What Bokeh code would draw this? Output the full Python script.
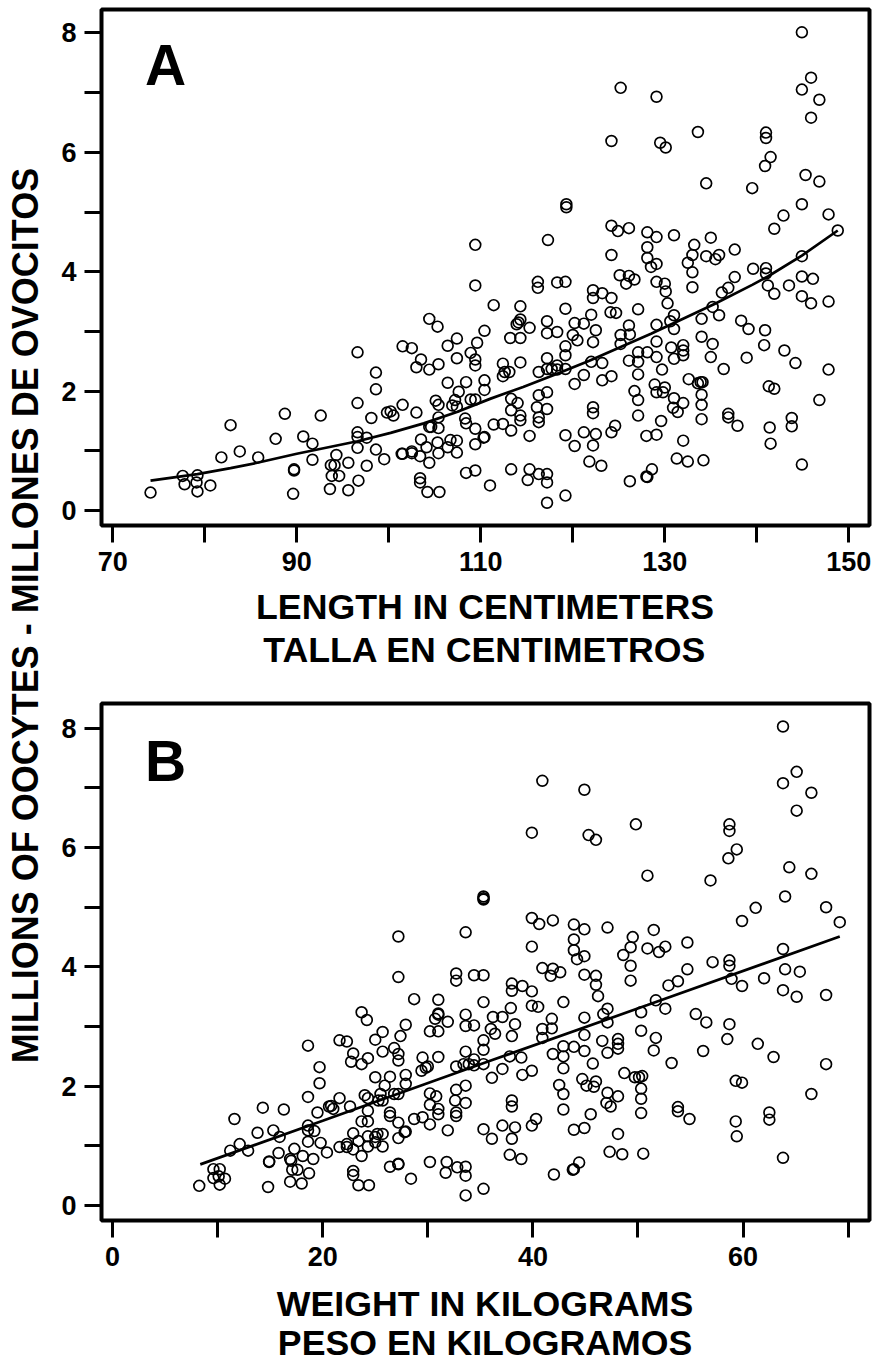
from bokeh.plotting import figure
from bokeh.layouts import row, column
from bokeh.models import Label, FixedTicker, Range1d
from bokeh.embed import file_html
from bokeh.resources import INLINE
import math

length_cm = [
74.1,77.6,77.8,79.2,79.1,79.2,80.6,81.8,82.8,83.8,85.8,87.7,88.7,89.7,89.7,89.6,90.7,91.7,91.7,92.6,
94.3,93.7,94.1,93.8,94.6,93.6,95.6,95.6,96.7,96.6,96.6,96.6,96.6,96.6,97.6,97.6,98.1,98.6,98.6,98.6,
99.5,99.8,100.2,100.5,101.5,101.5,102.5,101.5,101.4,102.5,102.5,103,103,103.5,104.4,105.4,104.4,105.3,106.4,107.4,
107.4,106.4,108.4,107.6,105.1,105.4,105.4,104.4,104.6,105.4,103.5,104.1,103.4,104.4,105.3,105.4,106.4,106.7,107.4,107.4,
103.4,103.4,104.2,105.5,108.4,109.4,106.9,107.2,107.4,108.3,108.4,108.9,109.4,109.4,109.4,109.6,108.9,109.4,109.4,109.4,109.4,
110.4,110.4,110.4,110.3,110.4,111,111.4,111.4,114.3,114.3,113.9,114.1,115.3,113.2,114.3,112.4,112.6,113.1,112.4,114.3,
112.4,113.3,113.3,114,113.3,114.3,114.3,115.3,113.3,115.3,115.1,116.3,117.2,117.2,117.2,119.2,116.3,116.1,117.2,117.2,
116.3,116.3,116.3,117.2,117.7,118.3,118.3,117.2,119.2,119.2,119.2,120,120.5,117.2,117.2,118.3,119.2,120.2,121.2,122,
122.5,122.2,122.2,122.2,123.2,124.2,124.1,124.7,127.1,122,123.2,121.2,120.2,123.2,124.2,119.2,120.2,121.2,122.5,122.2,
124.2,124.6,121.8,123.1,122.2,122.2,126.1,126.2,125.2,125.2,127.1,126.1,127.1,127.1,128.1,129.1,129.1,129.1,129.7,130.3,
131,130.6,131,130.7,131,132,132,132,126.7,127.1,127.1,128.9,129.1,130,129.8,131,130.9,131.4,132,129.6,
128,129.1,132,131.3,132.5,134.2,126.2,128.6,128,128.1,132.6,133.6,133.9,134.1,134,134,134,134,134,135.2,
135,136.4,135.2,135.9,136.2,136.9,138.3,139.1,140.9,140.8,138.9,143,144.2,147.8,136.9,136.9,137.9,141.3,141.9,141.4,
141.5,143.8,143.8,146.8,144.9,133,141.2,141.9,143.5,144.9,145.9,147.8,130.1,
144.9,145.9,144.9,146.8,145.9,125.2,129.1,124.2,129.5,130.1,133.6,141,141,141.5,140.9,145.3,146.8,134.5,139.5,144.9,
142.9,141.9,147.8,148.8,119.3,119.3,117.3,124.2,124.9,126.1,128.1,129.1,131,135,133.2,133,132.5,133,134.5,135.5,
135.9,137.6,124.2,128.1,128.1,128.5,129.1,125.1,126.1,126.7,125.8,129.1,130,116.2,116.2,118.3,119.2,139.6,141,141,
137.6,144.9,146.1,144.9,
]
oocytes_a = [
.30,.58,.44,.59,.47,.32,.42,.89,1.43,.99,.89,1.20,1.62,.69,.67,.28,1.24,1.12,.85,1.59,
.93,.76,.76,.58,.58,.36,.80,.34,.50,2.65,1.80,1.31,1.23,1.05,1.22,.75,1.55,2.31,2.03,1.02,
.86,1.64,1.66,1.59,1.77,2.75,2.72,.95,.95,.99,.96,1.64,2.40,2.53,2.36,2.45,3.21,3.08,2.76,2.88,
2.55,2.14,2.15,1.99,1.84,1.77,1.56,1.40,1.40,1.38,1.19,1.06,.91,.80,1.14,.96,1.06,1.18,1.17,.97,
.54,.47,.31,.31,.63,.67,1.76,1.85,1.74,1.54,1.46,1.86,1.86,1.37,1.11,2.81,2.64,2.53,2.43,3.77,4.45,
2.18,2.02,1.23,1.22,3.01,.42,3.44,1.44,3.42,3.20,3.12,3.15,3.06,2.89,2.89,2.46,2.32,2.32,2.25,2.48,
1.45,1.34,1.87,1.80,1.68,1.59,1.51,1.25,.69,.69,.51,.61,.61,.47,.13,.25,1.93,1.73,1.98,1.70,
1.56,1.48,2.32,2.37,2.37,2.43,2.36,2.55,2.37,2.60,2.75,2.94,2.85,3.17,2.97,2.99,3.38,3.14,3.13,3.28,
3.02,2.82,3.69,3.56,3.64,3.56,3.32,3.31,3.37,2.49,2.47,2.27,2.12,2.18,2.25,1.26,1.08,1.31,1.28,1.09,
1.31,1.42,.82,.75,1.73,1.63,3.10,2.95,2.94,2.79,2.65,2.51,2.49,2.28,2.65,2.83,3.11,2.57,2.36,3.47,
3.27,3.17,3.04,2.73,2.54,2.77,2.68,2.60,2.00,1.85,1.59,2.11,1.98,2.06,1.98,1.88,1.72,1.65,1.80,1.50,
1.25,1.27,1.17,.87,.82,.84,.49,.69,.57,.56,2.20,2.13,2.15,2.15,1.94,1.77,1.53,3.21,2.91,2.79,
2.57,2.37,3.41,3.27,3.65,3.73,3.18,3.04,3.02,2.77,2.56,2.68,2.47,2.36,1.62,1.56,1.42,2.08,2.04,1.39,
1.12,1.55,1.41,1.85,.77,3.74,3.77,3.63,3.77,3.59,3.47,3.50,3.67,
8.01,7.25,7.05,6.88,6.58,7.08,6.93,6.19,6.16,6.08,6.34,6.33,6.24,5.92,5.77,5.62,5.51,5.48,5.40,5.13,
4.94,4.72,4.96,4.69,5.13,5.08,4.53,4.77,4.68,4.73,4.66,4.58,4.61,4.57,4.45,4.28,4.15,3.99,4.26,4.21,
4.28,4.37,4.28,4.41,4.23,4.08,4.13,3.94,3.93,3.87,3.80,3.83,3.80,3.83,3.73,3.82,3.83,4.05,4.06,3.97,
3.91,3.92,3.88,4.26,
]
curve_a_x = [74.1,79.2,82.8,85.7,90,96.6,100.2,103.8,107.4,111,114.6,118.3,121.8,125.2,128.5,131.7,135.4,139.5,141.2,144.9,148.8]
curve_a_y = [.50,.61,.71,.80,.95,1.16,1.30,1.46,1.65,1.87,2.07,2.29,2.51,2.74,2.96,3.19,3.46,3.78,3.92,4.27,4.69]

weight_kg = [
8.25,9.6,10.2,9.6,10.2,10.1,10.7,11.2,11.6,12.1,12.9,13.8,14.3,16.3,15.3,15.9,14.9,14.9,14.8,15.8,
17.3,16.9,17,18.1,17.1,17.6,18.7,16.9,18,19.1,18.6,19.7,19.7,18.6,19.5,18.6,18.6,19.2,18.6,19.8,
20.4,20.6,20.8,21,21.6,22.6,21.6,22.3,21.6,22.3,22.3,22.9,22.7,23.7,24.3,23.7,24.2,22.9,23.4,22.9,
23.7,24.3,24.3,23.7,24.3,24.3,24,24.3,22.9,22.9,23.4,24.4,25,25,25.7,25.7,27.4,27.9,26.8,27.2,
27.2,27.2,28.7,25.9,26.4,27.9,27.9,25.5,25.3,25.7,26.8,27.2,26.4,26.4,27.2,27.9,27.8,27.2,25.7,25.2,
25,25,25.7,26.4,27.2,27.2,28.4,28.7,29.5,30.2,31.9,30.2,30.8,30.2,31,31,32.6,32.7,33.6,33.6,
32.7,32.7,30.2,31.8,31.7,32.8,33.6,33.6,33.6,35.3,29.5,30,29.8,29.4,31,30.2,31,30.7,31,31,
31.9,31,32.7,32.7,34.4,35.3,33.6,33.6,34.4,35.3,32.7,33.6,33.4,33.9,34.4,34.4,35.3,
35.3,35.3,36.2,36,36.4,36.1,37.1,35.3,36.1,37.1,37.1,38,38,39,39.9,37.9,38.3,38,39.9,40.5,
42.9,41.8,40.9,41.8,40.9,37.8,38.9,39,39.9,38,38,40.3,39.9,38.3,38,37.8,38.9,40.9,41.9,41.7,
42.6,44.9,46,46,46.2,44.9,44.9,47.1,46.7,47.1,49.3,49.3,52.9,53.8,54.7,51.7,52.6,50.3,50.3,51.7,
51.5,53.2,55.5,56.5,58.9,59.9,62,64,65.4,63.8,65.1,67.9,58.7,58.5,56.2,61.4,62.9,67.9,42.9,41.9,
42.9,43.9,44.9,42.9,45.7,46.6,47.1,48.1,48.1,48.1,48.7,49.7,50.1,50.4,50.3,50.3,50.3,42.5,42.9,42.9,
44.7,45.1,46,45.8,47.1,47,47.4,48.1,45.5,43.9,44.9,48.1,47.3,48.5,50.5,44.4,43.9,43.8,42,53.8,
53.8,54.9,59.3,59.9,59.3,59.4,62.5,62.5,66.5,63.8,
63.8,65.1,63.8,66.5,65.1,40.9,44.9,39.9,45.3,46,49.8,58.7,58.7,59.4,58.6,64.4,66.5,50.9,56.9,64,
61.2,59.9,67.9,69.2,35.3,35.3,35.3,39.9,40.6,41.9,43.9,44.9,47.1,51.5,49.5,49.3,48.6,50.9,52,52.6,
54.7,39.9,43.9,43.9,44.2,44.9,57.1,58.7,58.7,63.8,27.2,33.6,
]
oocytes_b = [
.33,.61,.61,.46,.35,.49,.45,.92,1.45,1.03,.92,1.22,1.64,1.61,1.26,1.15,.73,.74,.31,.88,
.95,.78,.75,.83,.60,.60,.54,.40,.37,.78,2.68,2.32,2.05,1.82,1.56,1.34,1.26,1.25,1.07,1.05,
.89,1.66,1.67,1.62,1.80,1.66,2.77,2.75,.98,1.03,.98,2.55,2.41,2.37,2.47,3.24,3.11,1.21,1.08,.94,
.83,1.16,.99,1.41,1.41,1.59,1.85,1.80,.58,.51,.34,.34,2.15,2.78,2.91,2.58,2.84,3.03,2.64,2.54,
2.43,3.83,3.46,2.01,2.16,2.19,2.04,1.87,1.76,1.76,1.87,1.87,1.56,1.50,1.39,1.24,1.23,1.13,1.20,1.20,
1.15,1.06,.99,.65,.70,.69,.45,1.45,1.48,1.36,1.26,1.88,1.83,1.69,1.62,1.53,1.76,1.94,2.01,1.72,
1.56,1.50,.73,.73,.55,.64,.65,.50,.17,.28,2.48,2.33,2.31,2.26,2.49,2.92,2.92,3.13,3.20,3.22,
3.08,3.45,3.89,3.77,3.86,3.86,3.20,3.01,3.02,3.41,2.33,2.58,2.37,2.37,2.45,2.35,2.37,
2.77,2.61,3.16,2.96,2.88,2.14,2.29,1.28,1.12,3.16,1.34,3.72,3.60,3.68,3.59,3.31,3.04,2.84,3.35,3.33,
3.41,3.13,2.96,2.97,2.81,2.50,2.48,2.19,2.26,1.76,1.66,1.45,1.34,1.31,1.12,.85,.78,3.98,3.97,3.85,
3.91,3.87,3.85,3.70,3.51,3.15,2.86,3.30,3.21,3.07,4.02,3.77,3.69,3.76,3.96,3.44,3.30,3.24,2.93,2.81,
2.60,2.39,3.21,3.07,3.80,3.68,3.81,3.96,3.92,3.61,3.50,3.53,3.04,2.79,2.59,2.71,2.49,2.37,2.67,2.54,
2.50,2.66,2.59,2.30,2.38,2.76,2.56,2.79,2.71,2.63,2.22,2.15,2.15,2.17,1.96,1.79,1.55,2.02,1.87,1.61,
2.12,2.01,2.08,1.99,1.89,1.72,1.66,1.83,1.53,1.27,1.30,1.20,.90,.86,.87,.72,.61,.60,.52,1.65,
1.58,1.45,2.09,2.06,1.41,1.16,1.56,1.44,1.87,.80,
8.03,7.27,7.08,6.92,6.62,7.12,6.97,6.25,6.21,6.13,6.39,6.39,6.28,5.97,5.82,5.67,5.56,5.53,5.45,5.18,
4.99,4.77,5.00,4.75,5.18,5.15,5.13,4.82,4.72,4.78,4.71,4.63,4.66,4.62,4.50,4.33,4.20,4.31,4.25,4.34,
4.41,4.34,4.46,4.28,4.13,4.18,4.08,4.11,4.02,4.30,4.51,4.58,
]
curve_b_x = [8.35,20,36,50.9,69.2]
curve_b_y = [.69,1.42,2.43,3.36,4.51]

x_ticks_a = [70,80,90,100,110,120,130,140,150]
x_labels_a = {70:"70",80:"",90:"90",100:"",110:"110",120:"",130:"130",140:"",150:"150"}
x_ticks_b = [0,10,20,30,40,50,60,70]
x_labels_b = {0:"0",10:"",20:"20",30:"",40:"40",50:"",60:"60",70:""}
y_ticks = [0,1,2,3,4,5,6,7,8]
y_labels = {0:"0",1:"",2:"2",3:"",4:"4",5:"",6:"6",7:"",8:"8"}
FONT = "Liberation Sans"

def panel(xs, ys, cx, cy, xr, yr, xt, xl, letter, lx, ly, h, top, bottom):
    p = figure(width=824, height=h, x_range=Range1d(*xr), y_range=Range1d(*yr),
               output_backend="svg", toolbar_location=None,
               min_border_left=51, min_border_right=5, min_border_top=top, min_border_bottom=bottom)
    p.grid.visible = False
    p.outline_line_color = "black"
    p.outline_line_width = 4
    p.background_fill_color = "white"
    p.border_fill_color = "white"
    for ax in (p.xaxis[0], p.yaxis[0]):
        ax.axis_line_color = None
        ax.major_tick_line_color = "black"
        ax.major_tick_line_width = 3
        ax.major_tick_out = 17
        ax.major_tick_in = 0
        ax.minor_tick_line_color = None
        ax.major_label_text_font = FONT
        ax.major_label_text_font_style = "bold"
        ax.major_label_text_font_size = "27px"
        ax.major_label_text_color = "black"
    p.xaxis[0].ticker = FixedTicker(ticks=xt)
    p.xaxis[0].major_label_overrides = xl
    p.xaxis[0].major_label_standoff = 9
    p.yaxis[0].ticker = FixedTicker(ticks=y_ticks)
    p.yaxis[0].major_label_overrides = y_labels
    p.yaxis[0].major_label_standoff = 8
    p.scatter(xs, ys, marker="circle", size=10.8, fill_color=None, line_color="black", line_width=1.7)
    p.line(cx, cy, line_color="black", line_width=2.7)
    p.add_layout(Label(x=lx, y=ly, text=letter, text_font=FONT, text_font_style="bold",
                       text_font_size="57px", text_color="black", text_align="left", text_baseline="alphabetic"))
    return p

def text_strip(width, height):
    s = figure(width=width, height=height, x_range=Range1d(0, width), y_range=Range1d(0, height),
               x_axis_type=None, y_axis_type=None, output_backend="svg", toolbar_location=None,
               min_border=0)
    s.grid.visible = False
    s.outline_line_color = None
    return s

def title_strip(height, lines, ys):
    s = text_strip(824, height)
    for text, ty in zip(lines, ys):
        s.add_layout(Label(x=411.5, y=ty, text=text, text_font=FONT, text_font_style="bold",
                           text_font_size="35.7px", text_color="black", text_align="center",
                           text_baseline="middle"))
    return s

pa = panel(length_cm, oocytes_a, curve_a_x, curve_a_y, (68.77, 152.25), (-0.251, 8.392),
           x_ticks_a, x_labels_a, "A", 73.5, 7.47, 584, 9, 59)
ta = title_strip(96, ["LENGTH IN CENTIMETERS", "TALLA EN CENTIMETROS"], (74, 30.5))
pb = panel(weight_kg, oocytes_b, curve_b_x, curve_b_y, (-1.05, 72.03), (-0.251, 8.416),
           x_ticks_b, x_labels_b, "B", 3.1, 7.46, 599, 23, 59)
tb = title_strip(84, ["WEIGHT IN KILOGRAMS", "PESO EN KILOGRAMOS"], (59.5, 21))

pt = text_strip(50, 1363)
pt.add_layout(Label(x=25, y=748, text="MILLIONS OF OOCYTES - MILLONES DE OVOCITOS",
                    angle=math.pi/2, text_font=FONT, text_font_style="bold", text_font_size="36px",
                    text_color="black", text_align="center", text_baseline="middle"))

layout = row(pt, column(pa, ta, pb, tb, spacing=0), spacing=0)
open("out.html", "w").write(file_html(layout, INLINE))
